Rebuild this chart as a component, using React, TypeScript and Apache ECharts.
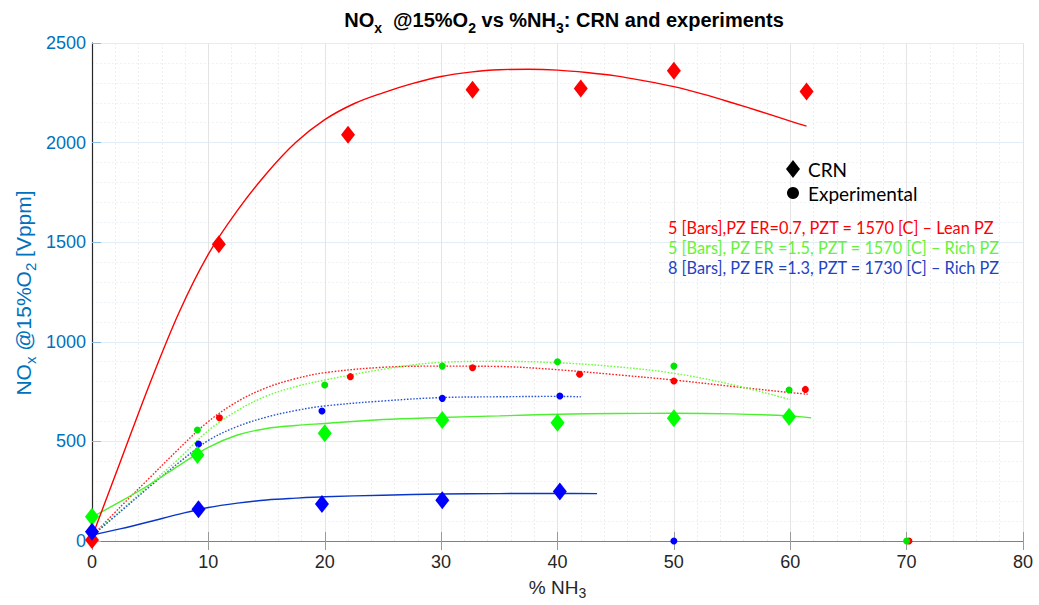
import React, { useEffect, useRef } from "react";
import * as echarts from "echarts";

// ---- Data ----
const crnRed: number[][] = [[0, 5], [10.9, 1490], [22, 2040], [32.7, 2265], [42, 2272], [50, 2361], [61.4, 2256]];
const crnGreen: number[][] = [[0, 122], [9.06, 432], [20, 541], [30.1, 607], [40, 594], [50, 616], [59.9, 624]];
const crnBlue: number[][] = [[0, 47], [9.15, 160], [19.76, 186], [30.1, 204], [40.2, 249]];

const expRed: number[][] = [[10.95, 619], [22.2, 825], [32.7, 870], [41.9, 837], [50, 803], [61.3, 761], [70.2, 0]];
const expGreen: number[][] = [[9.06, 557], [20, 783], [30.1, 878], [40, 900], [50, 878], [59.9, 758], [70, 0]];
const expBlue: number[][] = [[9.15, 487], [19.76, 653], [30.1, 716], [40.2, 728], [50, 0]];

const fitCrnRed: number[][] = [
  [0, 20], [2.5, 408], [5, 795], [7.5, 1150], [10, 1440], [12.5, 1660], [15, 1845], [17.5, 2000],
  [20, 2115], [22.5, 2195], [25, 2250], [27.5, 2296], [30, 2332], [32.5, 2354], [35, 2366],
  [37.5, 2368], [40, 2364], [42.5, 2352], [45, 2335], [47.5, 2310], [50, 2281], [52.5, 2243],
  [55, 2200], [57.5, 2155], [60, 2108], [61.4, 2083],
];
const fitCrnGreen: number[][] = [
  [0, 120], [2.5, 200], [5, 285], [7.5, 380], [10, 470], [12.5, 532], [15, 565], [17.5, 580],
  [20, 590], [25, 610], [30, 620], [35, 628], [40, 636], [45, 640], [50, 641], [55, 638],
  [60, 628], [61.8, 618],
];
const fitCrnBlue: number[][] = [
  [0, 30], [2.5, 62], [5, 98], [7.5, 135], [10, 168], [12.5, 190], [15, 206], [17.5, 215],
  [20, 222], [25, 230], [30, 236], [35, 238], [40, 239], [43.4, 238],
];
const fitExpRed: number[][] = [
  [0, 25], [2.5, 175], [5, 320], [7.5, 465], [10, 600], [12.5, 700], [15, 770], [17.5, 815],
  [20, 845], [25, 872], [30, 878], [35, 876], [40, 860], [45, 835], [50, 808], [55, 776],
  [60, 745], [61.5, 737],
];
const fitExpGreen: number[][] = [
  [0, 25], [2.5, 155], [5, 285], [7.5, 415], [10, 555], [12.5, 655], [15, 728], [17.5, 775],
  [20, 808], [25, 862], [30, 897], [35, 902], [40, 895], [45, 875], [50, 842], [55, 785],
  [60, 710],
];
const fitExpBlue: number[][] = [
  [0, 25], [2.5, 150], [5, 275], [7.5, 395], [10, 505], [12.5, 575], [15, 622], [17.5, 655],
  [20, 678], [25, 703], [30, 720], [35, 724], [40, 726], [42, 724],
];

const xMin = 0, xMax = 80, xStep = 10;
const yMin = 0, yMax = 2500, yStep = 500;

const legendLines = [
  { text: "5 [Bars],PZ ER=0.7, PZT = 1570 [C] – Lean PZ", color: "#ff0000" },
  { text: "5 [Bars], PZ ER =1.5, PZT = 1570 [C] – Rich PZ", color: "#66f23a" },
  { text: "8 [Bars], PZ ER =1.3, PZT = 1730 [C] – Rich PZ", color: "#1f43c4" },
];

const FONT = "'Liberation Sans', Arial, Helvetica, sans-serif";
const LFONT = "Lato, 'Open Sans', sans-serif";
const AXBLUE = "#0072BD";

function fitLine(data: number[][], color: string, dotted: boolean, width = 1.4) {
  return {
    type: "line",
    data,
    smooth: 0.35,
    showSymbol: false,
    symbol: "none",
    silent: true,
    lineStyle: { color, width, type: dotted ? [1.6, 1.6] : "solid" },
    z: 2,
  };
}
function scatter(data: number[][], color: string, diamond: boolean) {
  return {
    type: "scatter",
    data,
    symbol: diamond ? "diamond" : "circle",
    symbolSize: diamond ? [14, 18] : 7,
    itemStyle: { color, opacity: 1 },
    z: diamond ? 5 : 4,
  };
}

export default function App() {
  const ref = useRef<HTMLDivElement>(null);
  useEffect(() => {
    document.body.style.margin = "0";
    document.body.style.overflow = "hidden";
    const chart = echarts.init(ref.current!, null, { renderer: "svg" });
    const option: any = {
      animation: false,
      backgroundColor: "#ffffff",
      grid: { left: 92, right: 16, top: 43, bottom: 64, containLabel: false },
      xAxis: [
        {
          type: "value", min: xMin, max: xMax, interval: xStep, position: "bottom",
          name: "{m|% NH}{s|3}",
          nameLocation: "middle",
          nameGap: 33,
          nameTextStyle: {
            rich: {
              m: { fontFamily: FONT, fontSize: 19, color: "#262626", lineHeight: 26, verticalAlign: "middle" },
              s: { fontFamily: FONT, fontSize: 14, color: "#262626", lineHeight: 10, verticalAlign: "bottom" },
            },
          },
          axisLine: { show: true, lineStyle: { color: "#808080", width: 1 } },
          axisTick: { show: true, inside: true, length: 9, lineStyle: { color: "#999999" } },
          axisLabel: { color: "#262626", fontSize: 18, fontFamily: FONT, margin: 12 },
          splitLine: { show: true, lineStyle: { color: "#e4e4e4", width: 1 } },
          minorTick: { show: false, splitNumber: 5 },
          minorSplitLine: { show: true, lineStyle: { color: "#eeeeee", width: 1, type: [2, 2] } },
        },
        {
          type: "value", min: xMin, max: xMax, interval: xStep, position: "top",
          axisLine: { show: true, lineStyle: { color: "#808080", width: 1 } },
          axisTick: { show: true, inside: true, length: 9, lineStyle: { color: "#999999" } },
          axisLabel: { show: false },
          splitLine: { show: false },
        },
      ],
      yAxis: [
        {
          type: "value", min: yMin, max: yMax, interval: yStep, position: "left",
          axisLine: { show: true, lineStyle: { color: "#8dbfe3", width: 1 } },
          axisTick: { show: true, inside: true, length: 9, lineStyle: { color: "#8dbfe3" } },
          axisLabel: { color: AXBLUE, fontSize: 18, fontFamily: FONT, margin: 6, formatter: (v: number) => String(v) },
          splitLine: { show: true, lineStyle: { color: "#e2edf6", width: 1 } },
          minorTick: { show: false, splitNumber: 5 },
          minorSplitLine: { show: true, lineStyle: { color: "#eef3f8", width: 1, type: [2, 2] } },
        },
        {
          type: "value", min: yMin, max: yMax, interval: yStep, position: "right",
          axisLine: { show: true, lineStyle: { color: "#262626", width: 1.2 } },
          axisTick: { show: false },
          axisLabel: { show: false },
          splitLine: { show: false },
        },
      ],
      series: [
        fitLine(fitExpRed, "#ff2020", true),
        fitLine(fitExpGreen, "#66ff33", true),
        fitLine(fitExpBlue, "#2a55d6", true),
        fitLine(fitCrnGreen, "#4cf02e", false),
        fitLine(fitCrnBlue, "#0a36c8", false),
        fitLine(fitCrnRed, "#ff0000", false),
        scatter(expRed, "#ff0000", false),
        scatter(expGreen, "#00e600", false),
        scatter(expBlue, "#0000ff", false),
        scatter(crnRed, "#ff0000", true),
        scatter(crnGreen, "#00ff00", true),
        scatter(crnBlue, "#0000ff", true),
      ],
      graphic: [
        {
          type: "text", x: 564, y: 5, z: 100,
          style: {
            text: "{b|NO}{s|x}{b|  @15%O}{s|2}{b| vs %NH}{s|3}{b|: CRN and experiments}",
            align: "center",
            rich: {
              b: { fontFamily: FONT, fontSize: 20, fontWeight: "bold", fill: "#000", lineHeight: 30, verticalAlign: "middle" },
              s: { fontFamily: FONT, fontSize: 14, fontWeight: "bold", fill: "#000", lineHeight: 11, verticalAlign: "bottom" },
            },
          },
        },
        {
          type: "text", x: 23, y: 293, rotation: Math.PI / 2, z: 100,
          style: {
            text: "{m|NO}{s|x}{m| @15%O}{s|2}{m| [Vppm]}",
            align: "center",
            verticalAlign: "middle",
            rich: {
              m: { fontFamily: FONT, fontSize: 21, fill: AXBLUE, lineHeight: 30, verticalAlign: "middle" },
              s: { fontFamily: FONT, fontSize: 15, fill: AXBLUE, lineHeight: 11, verticalAlign: "bottom" },
            },
          },
        },
        {
          type: "polygon", z: 100,
          shape: { points: [[793, 160], [800, 169], [793, 178], [786, 169]] },
          style: { fill: "#000" },
        },
        {
          type: "text", x: 808, y: 169, z: 100,
          style: { text: "CRN", fill: "#000", fontFamily: LFONT, fontSize: 19, verticalAlign: "middle" },
        },
        { type: "circle", z: 100, shape: { cx: 793, cy: 193, r: 6 }, style: { fill: "#000" } },
        {
          type: "text", x: 808, y: 193, z: 100,
          style: { text: "Experimental", fill: "#000", fontFamily: LFONT, fontSize: 19, verticalAlign: "middle" },
        },
        ...legendLines.map((l, i) => ({
          type: "text", x: 668, y: 227 + i * 20, z: 100,
          style: { text: l.text, fill: l.color, fontFamily: LFONT, fontSize: 16.3, verticalAlign: "middle" },
        })),
      ],
    };
    chart.setOption(option);
    return () => chart.dispose();
  }, []);
  return <div ref={ref} style={{ width: 1039, height: 605 }} />;
}
